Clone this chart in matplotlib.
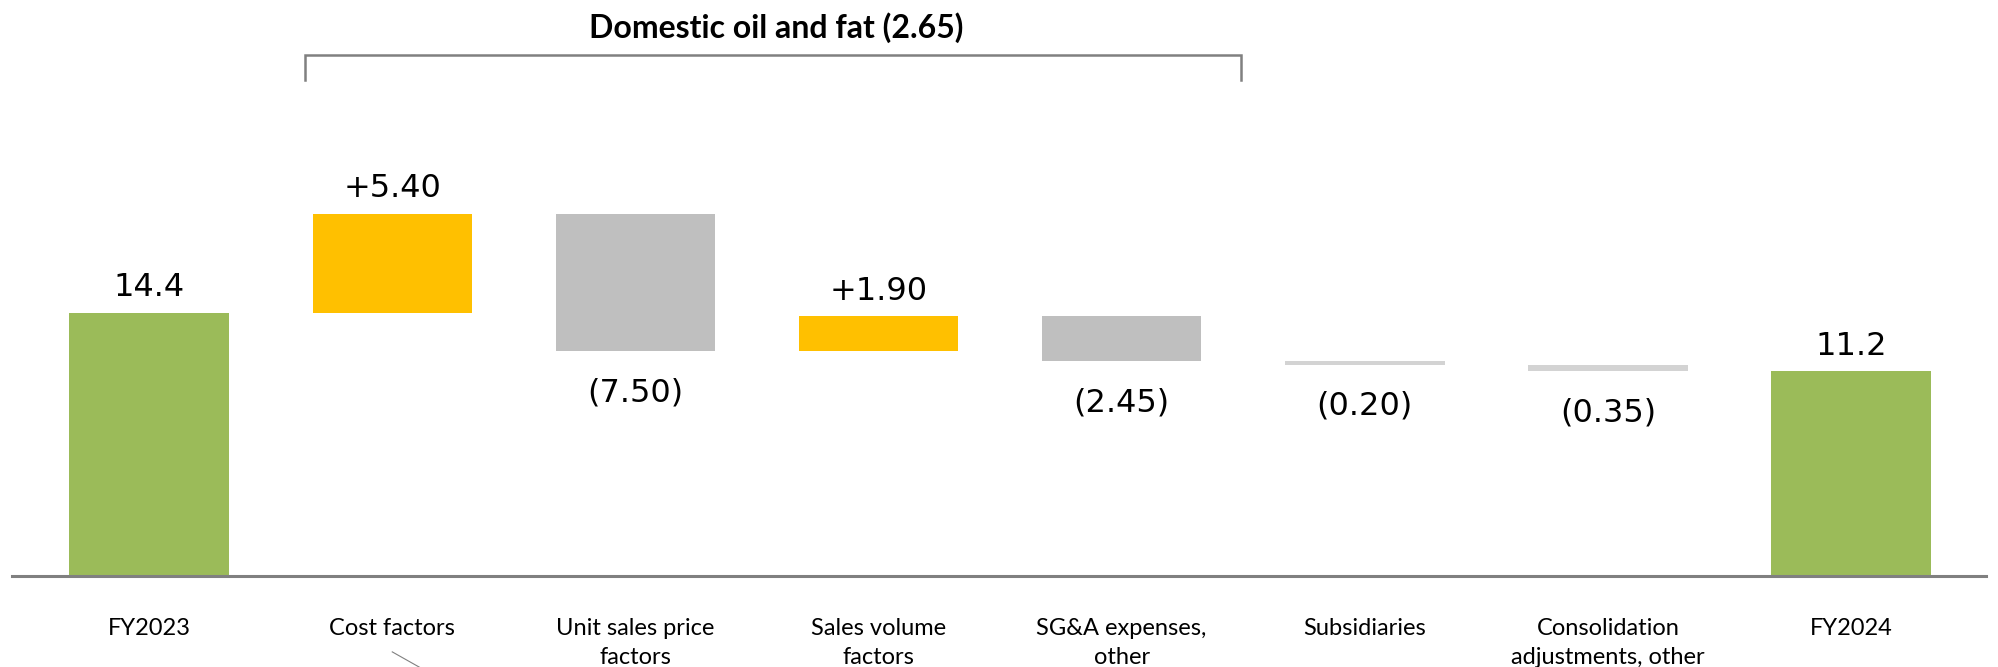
import numpy as np
import matplotlib.pyplot as plt

# data
categories = ['FY2023', 'Cost factors', 'Unit sales price\nfactors', 'Sales volume\nfactors',
              'SG&A expenses,\nother', 'Subsidiaries', 'Consolidation\nadjustments, other', 'FY2024']
start_value = 14.4
changes = [5.40, -7.50, 1.90, -2.45, -0.20, -0.35]
end_value = 11.2
value_labels = ['14.4', '+5.40', '(7.50)', '+1.90', '(2.45)', '(0.20)', '(0.35)', '11.2']
group_title = 'Domestic oil and fat (2.65)'

green = '#9BBB59'
yellow = '#FFC000'
gray = '#BFBFBF'

# waterfall layout
heights = [start_value] + [abs(c) for c in changes] + [end_value]
level_before = start_value + np.cumsum([0] + changes[:-1])
bottoms = [0] + [lv + min(c, 0) for lv, c in zip(level_before, changes)] + [0]
colors = [green] + [yellow if c > 0 else gray for c in changes] + [green]
below = [False] + [c < 0 for c in changes] + [False]

fig = plt.figure(figsize=(19.98, 6.67), dpi=100)
ax = fig.add_axes([12 / 1998, 91 / 667, 1 - 24 / 1998, 576 / 667])

x = np.arange(len(categories))
bars = ax.bar(x, heights, bottom=bottoms, width=0.656, color=colors, linewidth=0)
# the tiny adjustments show as pale lines
for b, h in zip(bars, heights):
    if h < 0.5:
        b.set_color('#D3D3D3')

for b, lab, neg in zip(bars, value_labels, below):
    cx = b.get_x() + b.get_width() / 2
    if neg:
        ax.annotate(lab, (cx, b.get_y()), xytext=(0, -30), textcoords='offset points',
                    ha='center', va='center', fontsize=23, family='DejaVu Sans')
    else:
        ax.annotate(lab, (cx, b.get_y() + b.get_height()), xytext=(0, 18),
                    textcoords='offset points', ha='center', va='center',
                    fontsize=23, family='DejaVu Sans')

ax.set_xlim(-0.564, 7.555)
ax.set_ylim(0, 31.5)
for s in ['top', 'right', 'left']:
    ax.spines[s].set_visible(False)
ax.spines['bottom'].set_color('#808080')
ax.spines['bottom'].set_linewidth(2.2)
ax.set_yticks([])
ax.set_xticks(x)
ax.set_xticklabels(categories, fontsize=17, family='Lato', linespacing=1.5)
ax.tick_params(axis='x', length=0, pad=30)

# bracket over domestic oil and fat items
ax.plot([0.642, 0.642, 4.49, 4.49], [27.1, 28.5, 28.5, 27.1], color='#808080',
        lw=1.8, clip_on=False, solid_joinstyle='miter')
ax.text(2.58, 30.0, group_title, ha='center', va='center', fontsize=23,
        family='Lato', fontweight='bold')

# small leftover connector line below "Cost factors"
ax.plot([1.0, 1.18], [-4.15, -5.5], color='#808080', lw=0.8, clip_on=False)

fig.savefig('out.png', dpi=100)
